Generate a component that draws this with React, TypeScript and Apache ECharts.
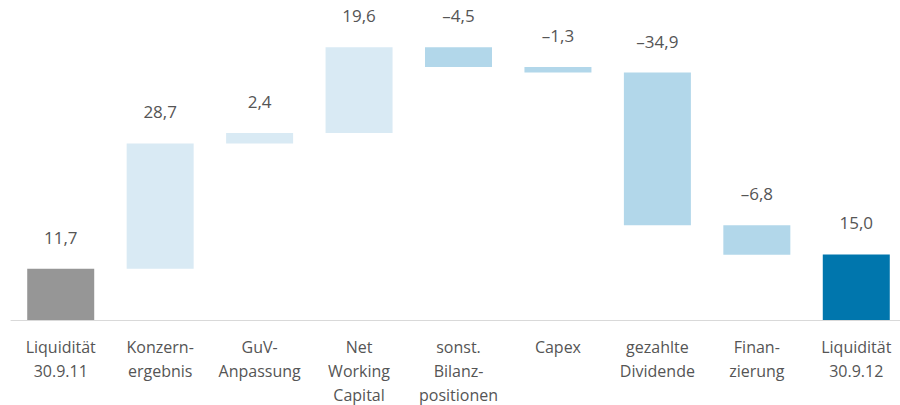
import React, { useEffect, useRef } from "react";
import * as echarts from "echarts";

const categories = [
  "Liquidität\n30.9.11",
  "Konzern-\nergebnis",
  "GuV-\nAnpassung",
  "Net\nWorking\nCapital",
  "sonst.\nBilanz-\npositionen",
  "Capex",
  "gezahlte\nDividende",
  "Finan-\nzierung",
  "Liquidität\n30.9.12",
];
// first and last are totals; the rest are changes
const values = [11.7, 28.7, 2.4, 19.6, -4.5, -1.3, -34.9, -6.8, 15.0];
const kinds = ["total", "delta", "delta", "delta", "delta", "delta", "delta", "delta", "total"];
const labels = ["11,7", "28,7", "2,4", "19,6", "–4,5", "–1,3", "–34,9", "–6,8", "15,0"];

const colorStart = "#969696";
const colorUp = "#d9eaf4";
const colorDown = "#b2d7ea";
const colorEnd = "#0076ad";

export default function App() {
  const ref = useRef<HTMLDivElement>(null);
  useEffect(() => {
    if (!ref.current) return;
    const chart = echarts.init(ref.current, null, { renderer: "svg" });
    let cum = 0;
    const base: number[] = [];
    const vis: any[] = [];
    values.forEach((v, i) => {
      if (kinds[i] === "total") {
        base.push(0);
        cum = v;
        vis.push({
          value: v,
          itemStyle: { color: i === 0 ? colorStart : colorEnd },
        });
      } else {
        const next = cum + v;
        base.push(Math.min(cum, next));
        vis.push({
          value: Math.abs(v),
          itemStyle: { color: v >= 0 ? colorUp : colorDown },
        });
        cum = next;
      }
    });
    const font = "'Open Sans', sans-serif";
    chart.setOption({
      animation: false,
      grid: { left: 11, right: -6, top: 14, bottom: 85, containLabel: false, outerBoundsMode: "none" },
      xAxis: {
        type: "category",
        data: categories,
        axisLine: { lineStyle: { color: "#d9d9d9", width: 1 } },
        axisTick: { show: false },
        axisLabel: {
          interval: 0,
          color: "#555555",
          fontSize: 16,
          fontFamily: font,
          lineHeight: 24,
          margin: 15,
        },
      },
      yAxis: {
        type: "value",
        min: 0,
        max: 70,
        show: false,
        splitLine: { show: false },
      },
      series: [
        {
          type: "bar",
          stack: "w",
          data: base,
          itemStyle: { color: "transparent" },
          barWidth: 67,
          silent: true,
        },
        {
          type: "bar",
          stack: "w",
          data: vis,
          barWidth: 67,
          label: {
            show: true,
            position: "top",
            distance: 23,
            color: "#555555",
            fontSize: 17,
            fontFamily: font,
            formatter: (p: any) => labels[p.dataIndex],
          },
        },
      ],
    });
    return () => chart.dispose();
  }, []);
  return (
    <div
      ref={ref}
      style={{ position: "absolute", left: 0, top: 0, width: 900, height: 405 }}
    />
  );
}
